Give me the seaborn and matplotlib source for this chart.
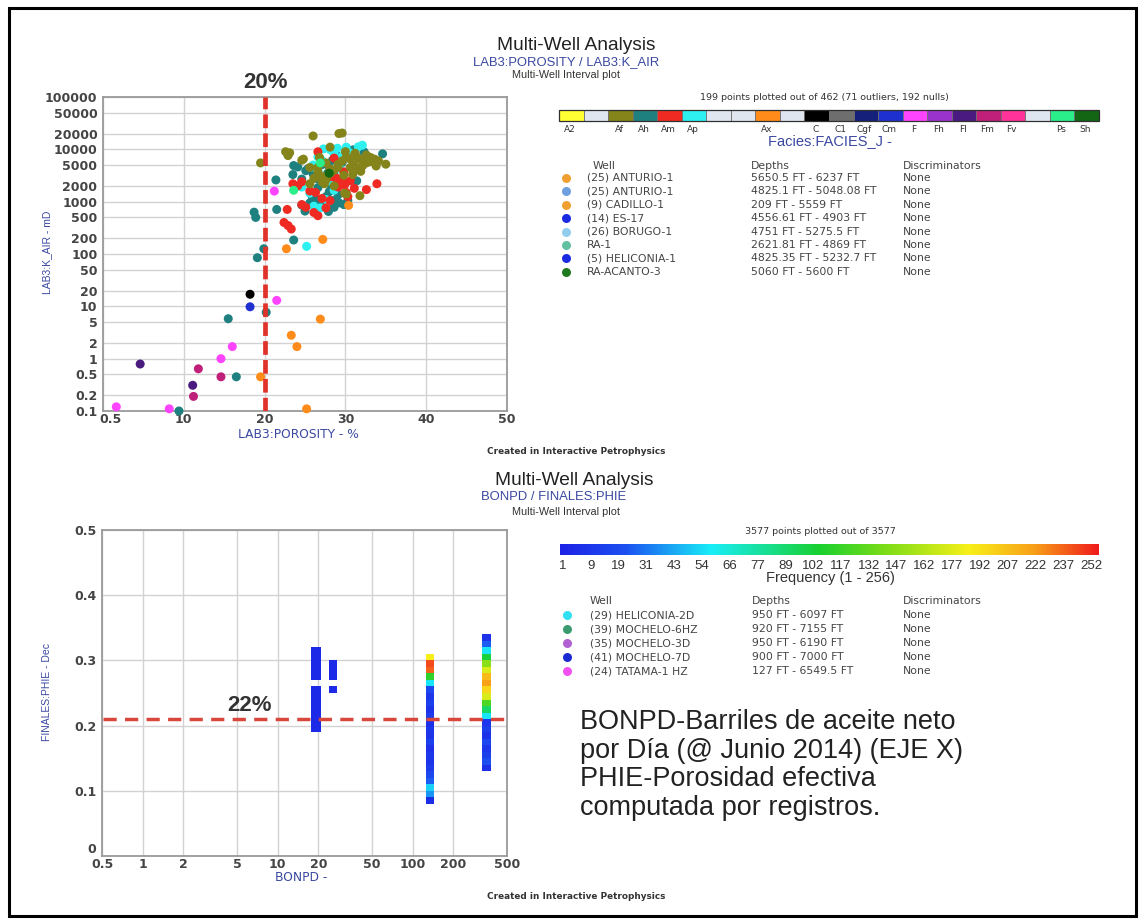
import numpy as np
import pandas as pd
import matplotlib
matplotlib.use("Agg")
import matplotlib.pyplot as plt
import seaborn as sns
from matplotlib.colors import LinearSegmentedColormap, Normalize
from matplotlib.patches import Rectangle

# ---------------- DATA ----------------
# Top chart: core porosity (%) vs permeability (mD), coloured by facies
por_Ah = [9.4, 15.5, 16.5, 18.7, 18.9, 19.1, 20.2, 19.9, 21.4, 21.5, 23.6, 23.5, 24.6, 25.0, 25.6, 26.2, 26.6, 27.2,
          27.6, 28.0, 28.4, 28.6, 29.2, 29.8, 30.3, 29.1, 27.4, 28.9, 26.0, 25.4, 24.1, 27.1, 29.6, 30.1, 30.6, 28.9,
          27.9, 34.6, 31.4, 26.9, 25.9, 24.6, 28.3, 23.6, 26.6, 27.8, 28.6, 29.3, 26.3, 27.9, 31.0, 32.3, 28.4, 25.1]
k_Ah = [0.1, 5.8, 0.45, 630, 500, 85, 7.7, 126, 2600, 710, 185, 3300, 860, 660, 950, 1500, 1850, 2300,
        1250, 1550, 1050, 780, 950, 880, 1050, 1350, 2900, 2600, 3400, 4300, 4600, 5100, 5600, 10000, 9600, 7700,
        4900, 8200, 2500, 920, 1250, 2700, 1850, 4900, 2700, 3500, 3200, 2100, 1100, 650, 9800, 9000, 6200, 3900]

por_Ap = [25.2, 24.6, 26.0, 26.6, 27.3, 28.1, 28.6, 29.6, 30.1, 31.6, 32.1, 27.1, 26.6, 28.6, 27.6, 26.1, 25.6, 28.4,
          29.3, 30.6, 27.9, 29.0, 25.8, 26.9]
k_Ap = [140, 1900, 5000, 7200, 10200, 9900, 8100, 7300, 11000, 11200, 12000, 6100, 3900, 1650, 1100, 820, 1450, 3600,
        4300, 8500, 2500, 10500, 4600, 760]

por_Am = [22.8, 22.4, 22.9, 23.3, 23.5, 26.6, 27.1, 28.9, 29.3, 29.9, 30.6, 31.1, 32.6, 33.9, 25.6, 24.6, 26.1, 26.6,
          27.6, 27.1, 28.1, 29.1, 30.1, 29.6, 28.3, 24.1, 26.3, 30.3, 25.1, 28.6, 29.8, 24.6]
k_Am = [710, 400, 350, 300, 2200, 9000, 2900, 2800, 2300, 2100, 2500, 1800, 1700, 2200, 1600, 880, 620, 540,
        760, 1150, 1050, 1900, 1500, 2700, 3000, 2000, 1500, 1250, 780, 6800, 3700, 2400]

por_Af = [19.5, 22.6, 23.1, 22.9, 26.0, 29.2, 29.6, 24.6, 25.6, 26.6, 27.1, 27.6, 28.1, 28.6, 29.1, 29.6, 30.1, 30.6,
          31.1, 31.6, 32.1, 32.6, 33.1, 33.6, 34.1, 35.0, 31.1, 30.6, 31.6, 32.1, 32.6, 33.1, 28.1, 26.8, 27.6, 26.1,
          25.6, 27.1, 28.6, 30.1, 31.8, 29.1, 28.1, 30.0, 26.6, 27.8, 29.8, 31.2, 33.8, 24.8, 31.9, 29.9, 30.9, 32.9, 27.4]
k_Af = [5500, 9000, 8600, 7600, 18000, 20000, 20500, 6200, 4500, 3700, 3000, 2600, 3500, 4000, 4600, 6000, 7000, 6500,
        7500, 6800, 6000, 5500, 7000, 6500, 6000, 5200, 5000, 4500, 4200, 4800, 7800, 5800, 11000, 7000, 5500, 2800,
        2200, 2400, 2000, 1400, 1300, 5200, 4200, 9000, 4500, 3200, 3200, 8400, 4800, 6500, 3800, 1450, 3300, 6200, 2200]

por_Ax = [19.5, 22.7, 23.3, 24.0, 25.2, 26.9, 27.2, 30.4]
k_Ax = [0.45, 126, 2.8, 1.7, 0.11, 5.7, 190, 850]
por_C, k_C = [18.2], [17]
por_Cm, k_Cm = [18.2], [9.8]
por_F = [1.65, 8.2, 14.6, 16.0, 21.5, 21.2]
k_F = [0.12, 0.11, 1.0, 1.7, 13, 1590]
por_Fl, k_Fl = [4.6, 11.1], [0.79, 0.31]
por_Fm, k_Fm = [11.2, 11.8, 14.6], [0.19, 0.64, 0.45]
por_Ps, k_Ps = [23.6, 26.9], [1650, 5500]
por_Sh, k_Sh = [28.0], [3500]

facies_codes = ['A2', '', 'Af', 'Ah', 'Am', 'Ap', '', '', 'Ax', '', 'C', 'C1', 'Cgf', 'Cm',
                'F', 'Fh', 'Fl', 'Fm', 'Fv', '', 'Ps', 'Sh']
facies_colors = ['#ffff33', '#dfe6ef', '#84841a', '#1f8080', '#ee2a22', '#2ef0f0', '#dfe6ef', '#dfe6ef',
                 '#ff8c1a', '#dfe6ef', '#000000', '#6e6e6e', '#15207a', '#1f30d0', '#ff44ff', '#9a33cc',
                 '#4a1a80', '#c0207a', '#ff3399', '#dfe6ef', '#2aee8a', '#136613']

por_ticks = [0, 10, 20, 30, 40, 50]
por_tick_labels = ['0.5', '10', '20', '30', '40', '50']
k_ticks = [0.1, 0.2, 0.5, 1, 2, 5, 10, 20, 50, 100, 200, 500, 1000, 2000, 5000, 10000, 20000, 50000, 100000]
k_tick_labels = ['0.1', '0.2', '0.5', '1', '2', '5', '10', '20', '50', '100', '200', '500', '1000', '2000',
                 '5000', '10000', '20000', '50000', '100000']

wells_top = ['(25) ANTURIO-1', '(25) ANTURIO-1', '(9) CADILLO-1', '(14) ES-17', '(26) BORUGO-1', 'RA-1',
             '(5) HELICONIA-1', 'RA-ACANTO-3']
depths_top = ['5650.5 FT - 6237 FT', '4825.1 FT - 5048.08 FT', '209 FT - 5559 FT', '4556.61 FT - 4903 FT',
              '4751 FT - 5275.5 FT', '2621.81 FT - 4869 FT', '4825.35 FT - 5232.7 FT', '5060 FT - 5600 FT']
wellcol_top = ['#f0a030', '#6f9fdf', '#f0a030', '#1a2ae0', '#90cdef', '#60c0a0', '#1a2ae0', '#207a20']

# Bottom chart: BONPD vs PHIE frequency columns (bin bottom, frequency)
colA_x = (17.8, 20.8)
colA_bins = [0.19, 0.20, 0.21, 0.22, 0.23, 0.24, 0.25, 0.27, 0.28, 0.29, 0.30, 0.31]
colA_freq = [6, 6, 6, 6, 6, 6, 6, 6, 6, 6, 6, 6]
colB_x = (24.1, 27.5)
colB_bins = [0.25, 0.27, 0.28, 0.29]
colB_freq = [6, 6, 6, 6]
colC_x = (125.6, 144.8)
colC_bins = [0.08, 0.09, 0.10, 0.11, 0.12, 0.13, 0.14, 0.15, 0.16, 0.17, 0.18, 0.19, 0.20, 0.21, 0.22, 0.23,
             0.24, 0.25, 0.26, 0.27, 0.28, 0.29, 0.30]
colC_freq = [8, 50, 65, 35, 25, 18, 12, 15, 10, 20, 12, 15, 10, 18, 12, 20, 15, 25, 70, 130, 240, 245, 195]
colD_x = (326, 383)
colD_bins = [0.13, 0.14, 0.15, 0.16, 0.17, 0.18, 0.19, 0.20, 0.21, 0.22, 0.23, 0.24, 0.25, 0.26, 0.27, 0.28,
             0.29, 0.30, 0.31, 0.32, 0.33]
colD_freq = [10, 30, 20, 15, 25, 12, 20, 15, 70, 110, 140, 185, 205, 225, 215, 185, 160, 120, 70, 35, 12]

bonpd_ticks = [0.5, 1, 2, 5, 10, 20, 50, 100, 200, 500]
bonpd_tick_labels = ['0.5', '1', '2', '5', '10', '20', '50', '100', '200', '500']
phie_ticks = [0, 0.1, 0.2, 0.3, 0.4, 0.5]
phie_tick_labels = ['0', '0.1', '0.2', '0.3', '0.4', '0.5']
freq_tick_labels = ['1', '9', '19', '31', '43', '54', '66', '77', '89', '102', '117', '132', '147', '162',
                    '177', '192', '207', '222', '237', '252']

wells_bot = ['(29) HELICONIA-2D', '(39) MOCHELO-6HZ', '(35) MOCHELO-3D', '(41) MOCHELO-7D', '(24) TATAMA-1 HZ']
depths_bot = ['950 FT - 6097 FT', '920 FT - 7155 FT', '950 FT - 6190 FT', '900 FT - 7000 FT', '127 FT - 6549.5 FT']
wellcol_bot = ['#30e0f0', '#3a9a70', '#b060d0', '#1a2ad0', '#f050f0']

note_lines = ['BONPD-Barriles de aceite neto', 'por Día (@ Junio 2014) (EJE X)',
              'PHIE-Porosidad efectiva', 'computada por registros.']

# ---------------- STYLE ----------------
sns.set_theme(style="white")
plt.rcParams['font.family'] = ['DejaVu Sans']

W, H = 1144, 921
fig = plt.figure(figsize=(W / 100, H / 100), dpi=100)
fig.patch.set_facecolor('white')


def fa(x0, y0, x1, y1):
    return [x0 / W, 1 - y1 / H, (x1 - x0) / W, (y1 - y0) / H]


TICKC = '#444444'
BLUE = '#3a48a0'
GRID = '#d2d2d2'

fac_map = {c: col for c, col in zip(facies_codes, facies_colors) if c}
groups = [('Ah', por_Ah, k_Ah), ('Ap', por_Ap, k_Ap), ('Am', por_Am, k_Am), ('Af', por_Af, k_Af),
          ('Ax', por_Ax, k_Ax), ('C', por_C, k_C), ('Cm', por_Cm, k_Cm), ('F', por_F, k_F),
          ('Fl', por_Fl, k_Fl), ('Fm', por_Fm, k_Fm), ('Ps', por_Ps, k_Ps), ('Sh', por_Sh, k_Sh)]
rows = []
for code, xs, ys in groups:
    for xv, yv in zip(xs, ys):
        rows.append((xv, yv, code))
df = pd.DataFrame(rows, columns=['porosity', 'kair', 'facies'])

# ---------------- TOP CHART ----------------
ax1 = fig.add_axes(fa(103, 97, 507, 411))
ax1.set_yscale('log')
sns.scatterplot(data=df, x='porosity', y='kair', hue='facies', palette=fac_map, s=42, linewidth=0,
                legend=False, ax=ax1, zorder=3, clip_on=False)
ax1.set_xlim(0, 50)
ax1.set_ylim(0.1, 100000)
ax1.set_xticks(por_ticks)
# first label is drawn separately (nudged right) so it does not collide with the "0.1" y label
ax1.set_xticklabels([''] + por_tick_labels[1:])
ax1.set_yticks(k_ticks)
ax1.set_yticklabels(k_tick_labels)
ax1.minorticks_off()
ax1.grid(True, color=GRID, lw=1.0)
ax1.axvline(20, color='#e0322a', lw=3.4, dashes=(2.9, 1.1), zorder=4)
ax1.set_xlabel('')
ax1.set_ylabel('')

# ---------------- BOTTOM CHART ----------------
cmap = LinearSegmentedColormap.from_list('freq', [(0, '#1c22e6'), (0.12, '#1c50f0'), (0.28, '#18eef8'),
                                                  (0.48, '#18d030'), (0.6, '#78dc18'), (0.76, '#f8f018'),
                                                  (0.88, '#f8a018'), (1, '#f01c1c')])
norm = Normalize(1, 256)

ax2 = fig.add_axes(fa(102, 530, 507, 856))
ax2.set_xscale('log')
for (xl, xr), bins, freqs in [(colA_x, colA_bins, colA_freq), (colB_x, colB_bins, colB_freq),
                              (colC_x, colC_bins, colC_freq), (colD_x, colD_bins, colD_freq)]:
    ax2.bar([xl] * len(bins), [0.01] * len(bins), width=xr - xl, bottom=bins, align='edge',
            color=[cmap(norm(f)) for f in freqs], linewidth=0, zorder=3)
ax2.set_xlim(0.5, 500)
ax2.set_ylim(0, 0.5)
ax2.set_xticks(bonpd_ticks)
ax2.set_xticklabels(bonpd_tick_labels)
ax2.set_yticks(phie_ticks)
ax2.set_yticklabels(phie_tick_labels)
ax2.minorticks_off()
ax2.grid(True, color=GRID, lw=1.0)
ax2.plot([0.51, 545], [0.21, 0.21], color='#d8463c', lw=2.5, dashes=(3.8, 2.4), zorder=4, clip_on=False)

for ax in (ax1, ax2):
    for sp in ax.spines.values():
        sp.set_color('#9a9a9a')
        sp.set_linewidth(1.3)
    ax.tick_params(length=0, pad=4, labelsize=9, labelcolor=TICKC)
    ax.tick_params(axis='x', pad=1.5)
    for lab in ax.get_xticklabels() + ax.get_yticklabels():
        lab.set_fontweight('bold')
# bottom chart: the "0" label sits just above the corner, as in the original
ax2.get_yticklabels()[0].set_verticalalignment('bottom')

# ---------------- COLOUR BARS ----------------
fax = fig.add_axes(fa(559, 110, 1099, 121))
fax.bar(np.arange(len(facies_colors)), [1] * len(facies_colors), width=1, align='edge',
        color=facies_colors, edgecolor='#707070', linewidth=0.6)
fax.set_xlim(0, len(facies_colors))
fax.set_ylim(0, 1)
fax.axis('off')
fax.add_patch(Rectangle((0, 0), len(facies_colors), 1, fill=False, ec='#303030', lw=0.9, clip_on=False))
for i, code in enumerate(facies_codes):
    if code:
        fax.text(i + 0.45, -0.8, code, ha='center', va='center', fontsize=6.5, color='#333333')

cax = fig.add_axes(fa(560, 544, 1099, 555))
cax.imshow(np.linspace(0, 1, 256)[None, :], aspect='auto', cmap=cmap, extent=[0, 1, 0, 1])
cax.axis('off')

# ---------------- OVERLAY TEXT ----------------
ov = fig.add_axes([0, 0, 1, 1])
ov.set_xlim(0, W)
ov.set_ylim(H, 0)
ov.axis('off')
ov.patch.set_alpha(0)
ov.add_patch(Rectangle((9, 8), 1127, 908, fill=False, ec='black', lw=2.2))

TF = ['Liberation Sans', 'DejaVu Sans']


def T(x, y, s, **kw):
    kw.setdefault('va', 'center')
    kw.setdefault('ha', 'center')
    ov.text(x, y, s, **kw)


# first x tick label of the top chart
T(110, 419, por_tick_labels[0], fontsize=9, color=TICKC, fontweight='bold')

# titles
T(576, 46, 'Multi-Well Analysis', fontsize=13.8, family=TF, color='#222222')
T(566, 62, 'LAB3:POROSITY / LAB3:K_AIR', fontsize=9.4, family=TF, color=BLUE)
T(566, 75, 'Multi-Well Interval plot', fontsize=7.8, family=TF, color='#333333')
T(574, 480, 'Multi-Well Analysis', fontsize=13.8, family=TF, color='#222222')
T(554, 497, 'BONPD / FINALES:PHIE', fontsize=9.4, family=TF, color=BLUE)
T(566, 512, 'Multi-Well Interval plot', fontsize=7.8, family=TF, color='#333333')

T(266, 83, '20%', fontsize=16, family=TF, color='#333333', fontweight='bold')
T(249, 705, '22%', fontsize=16, family=TF, color='#333333', fontweight='bold')

# axis labels
T(298, 434, 'LAB3:POROSITY - %', fontsize=8.8, color=BLUE)
T(47, 252, 'LAB3:K_AIR - mD', fontsize=7.5, family=['Liberation Sans Narrow', 'Liberation Sans'],
  color=BLUE, rotation=90)
T(301, 877, 'BONPD -', fontsize=8.8, color=BLUE)
T(47, 692, 'FINALES:PHIE - Dec', fontsize=7.5, family=['Liberation Sans Narrow', 'Liberation Sans'],
  color=BLUE, rotation=90)

T(487, 451, 'Created in Interactive Petrophysics', fontsize=6.4, color='#333333', ha='left', fontweight='bold')
T(487, 896, 'Created in Interactive Petrophysics', fontsize=6.4, color='#333333', ha='left', fontweight='bold')

T(824, 97, '199 points plotted out of 462 (71 outliers, 192 nulls)', fontsize=6.8, color='#333333')
T(830, 141, 'Facies:FACIES_J -', fontsize=10.5, family=TF, color=BLUE)

T(820, 531, '3577 points plotted out of 3577', fontsize=6.8, color='#333333')
x0, x1 = 563, 1091
for i, lab in enumerate(freq_tick_labels):
    T(x0 + (x1 - x0) * i / (len(freq_tick_labels) - 1), 566, lab, fontsize=9.5, family=TF, color='#333333')
T(830, 578, 'Frequency (1 - 256)', fontsize=10.5, family=TF, color='#333333')

# legends
LC = '#444444'
LF = 7.8
T(593, 166, 'Well', fontsize=LF, color=LC, ha='left')
T(751, 166, 'Depths', fontsize=LF, color=LC, ha='left')
T(903, 166, 'Discriminators', fontsize=LF, color=LC, ha='left')
for i, (w, d, c) in enumerate(zip(wells_top, depths_top, wellcol_top)):
    yy = 178 + i * 13.4
    ov.scatter([566], [yy], s=42, color=c, linewidth=0)
    T(587, yy, w, fontsize=LF, color=LC, ha='left')
    T(751, yy, d, fontsize=LF, color=LC, ha='left')
    T(903, yy, 'None', fontsize=LF, color=LC, ha='left')

T(590, 601, 'Well', fontsize=LF, color=LC, ha='left')
T(752, 601, 'Depths', fontsize=LF, color=LC, ha='left')
T(903, 601, 'Discriminators', fontsize=LF, color=LC, ha='left')
for i, (w, d, c) in enumerate(zip(wells_bot, depths_bot, wellcol_bot)):
    yy = 615 + i * 14
    ov.scatter([567], [yy], s=42, color=c, linewidth=0)
    T(590, yy, w, fontsize=LF, color=LC, ha='left')
    T(752, yy, d, fontsize=LF, color=LC, ha='left')
    T(903, yy, 'None', fontsize=LF, color=LC, ha='left')

# note text
for i, line in enumerate(note_lines):
    T(580, 722 + i * 28.7, line, fontsize=19.5, family=TF, color='#222222', ha='left')

fig.savefig('out.png', dpi=100)
